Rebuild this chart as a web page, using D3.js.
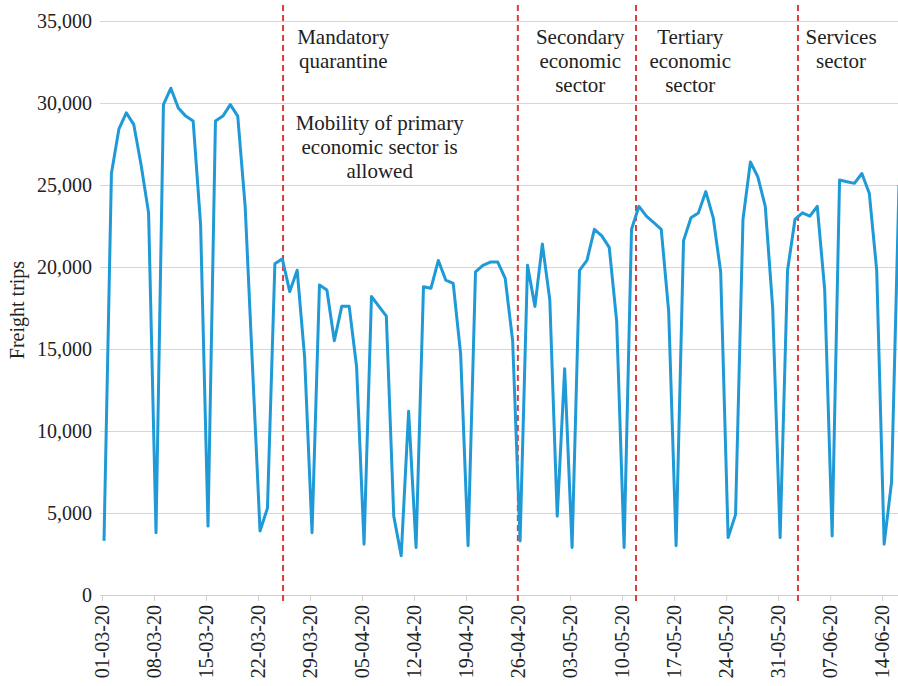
<!DOCTYPE html>
<html>
<head>
<meta charset="utf-8">
<script src="https://cdn.jsdelivr.net/npm/d3@7"></script>
<style>
  html, body { margin: 0; padding: 0; background: #fff; }
  svg { display: block; font-family: "Liberation Serif", "DejaVu Serif", serif; }
</style>
</head>
<body>
<svg id="chart" width="898" height="686"></svg>
<script>
// ---- data ----
const startDate = "2020-03-01";
const freightTrips = [
  3300, 25700, 28400, 29400, 28700, 26200, 23300,
  3800, 29900, 30900, 29700, 29200, 28900, 22600,
  4200, 28900, 29200, 29900, 29200, 23700, 13800,
  3900, 5300, 20200, 20500, 18500, 19800, 14500,
  3800, 18900, 18600, 15500, 17600, 17600, 13900,
  3100, 18200, 17600, 17000, 4800, 2400, 11200,
  2900, 18800, 18700, 20400, 19200, 19000, 14700,
  3000, 19700, 20100, 20300, 20300, 19300, 15500,
  3300, 20100, 17600, 21400, 18000, 4800, 13800,
  2900, 19800, 20400, 22300, 21900, 21200, 16700,
  2900, 22300, 23700, 23100, 22700, 22300, 17300,
  3000, 21600, 23000, 23300, 24600, 23000, 19700,
  3500, 4900, 22900, 26400, 25500, 23700, 17500,
  3500, 19800, 22900, 23300, 23100, 23700, 18600,
  3600, 25300, 25200, 25100, 25700, 24500, 19800,
  3100, 6900, 25000
];
const yTicks = [0, 5000, 10000, 15000, 20000, 25000, 30000, 35000];
const xTickEveryDays = 7;
const yLabel = "Freight trips";
// phase boundaries, in days since startDate
const phaseBoundaries = [24.1, 55.7, 71.6, 93.4];
// annotation text, anchored at day (since startDate) and line index
const annotations = [
  { day: 32.2, firstLine: 0, lines: ["Mandatory", "quarantine"] },
  { day: 37.1, firstLine: 3.6, lines: ["Mobility of primary", "economic sector is", "allowed"] },
  { day: 64.1, firstLine: 0, lines: ["Secondary", "economic", "sector"] },
  { day: 78.9, firstLine: 0, lines: ["Tertiary", "economic", "sector"] },
  { day: 99.2, firstLine: 0, lines: ["Services", "sector"] }
];

// ---- chart ----
const svg = d3.select("#chart");
const W = 898, H = 686;
const plot = { left: 100, right: 898, top: 20, bottom: 595 };

const parse = d3.timeParse("%Y-%m-%d");
const t0 = parse(startDate);
const series = freightTrips.map((v, i) => ({ date: d3.timeDay.offset(t0, i), value: v }));
const dayToDate = d => new Date(t0.getTime() + d * 864e5);

const x = d3.scaleTime()
  .domain([series[0].date, series[series.length - 1].date])
  .range([104, 899]);
const y = d3.scaleLinear().domain([0, 35000]).range([plot.bottom, 21]);

// gridlines
svg.append("g")
  .selectAll("line")
  .data(yTicks)
  .join("line")
  .attr("x1", plot.left).attr("x2", plot.right)
  .attr("y1", d => Math.round(y(d)) + 0.5).attr("y2", d => Math.round(y(d)) + 0.5)
  .attr("stroke", "#d6d6d6").attr("stroke-width", 1);

// y axis labels
const yAxis = d3.axisLeft(y).tickValues(yTicks).tickFormat(d3.format(",")).tickSize(0).tickPadding(0);
const gy = svg.append("g").attr("transform", `translate(92,0)`).call(yAxis);
gy.select(".domain").remove();
gy.selectAll("text")
  .attr("font-family", "Liberation Serif, serif")
  .attr("font-size", 20).attr("fill", "#222").attr("dy", "0.34em");

// x axis
const xTickVals = series.filter((d, i) => i % xTickEveryDays === 0).map(d => d.date);
const xAxis = d3.axisBottom(x).tickValues(xTickVals).tickFormat(d3.timeFormat("%d-%m-%y")).tickSize(6).tickPadding(4);
const gx = svg.append("g").attr("transform", `translate(-2,${plot.bottom})`).call(xAxis);
gx.select(".domain").attr("d", `M${plot.left + 2},0.5H${plot.right + 2}`).attr("stroke", "#cfcfcf");
gx.selectAll(".tick line").attr("stroke", "#d0d0d0");
gx.selectAll("text")
  .attr("font-family", "Liberation Serif, serif")
  .attr("font-size", 20).attr("fill", "#222")
  .attr("text-anchor", "end")
  .attr("transform", "rotate(-90)")
  .attr("x", -10).attr("y", 0).attr("dy", "0.34em");

// phase boundary lines
svg.append("g")
  .selectAll("line")
  .data(phaseBoundaries)
  .join("line")
  .attr("x1", d => x(dayToDate(d))).attr("x2", d => x(dayToDate(d)))
  .attr("y1", 5).attr("y2", 602)
  .attr("stroke", "#dc3c3c").attr("stroke-width", 2)
  .attr("stroke-dasharray", "6,4");

// series line
svg.append("path")
  .datum(series)
  .attr("fill", "none")
  .attr("stroke", "#1f9ad6")
  .attr("stroke-width", 3)
  .attr("stroke-linejoin", "round")
  .attr("d", d3.line().x(d => x(d.date)).y(d => y(d.value)));

// annotations
const ag = svg.append("g")
  .attr("font-family", "Liberation Serif, serif")
  .attr("font-size", 21).attr("fill", "#222").attr("text-anchor", "middle");
annotations.forEach(a => {
  a.lines.forEach((ln, k) => {
    ag.append("text")
      .attr("x", x(dayToDate(a.day)))
      .attr("y", 44 + (a.firstLine + k) * 24)
      .text(ln);
  });
});

// y label
svg.append("text")
  .attr("transform", "translate(24,310) rotate(-90)")
  .attr("text-anchor", "middle")
  .attr("font-family", "Liberation Serif, serif")
  .attr("font-size", 20).attr("fill", "#222")
  .text(yLabel);
</script>
</body>
</html>
